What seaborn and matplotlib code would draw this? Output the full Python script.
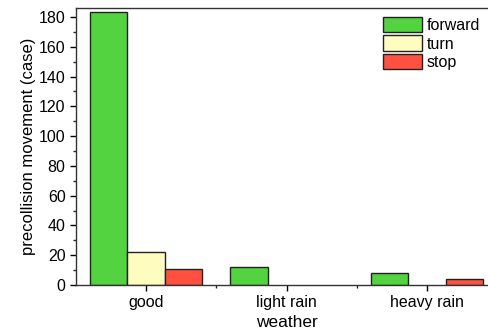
import matplotlib.pyplot as plt
import pandas as pd
import seaborn as sns
from matplotlib.ticker import MultipleLocator, FixedLocator

weather = ['good', 'light rain', 'heavy rain']
movements = ['forward', 'turn', 'stop']
forward = [183, 12, 8]
turn = [22, 0, 0]
stop = [11, 0, 4]
colors = ['#52d33f', '#fffcc0', '#ff5040']

rows = []
for i, w in enumerate(weather):
    rows.append((w, 'forward', forward[i]))
    rows.append((w, 'turn', turn[i]))
    rows.append((w, 'stop', stop[i]))
df = pd.DataFrame(rows, columns=['weather', 'movement', 'cases'])

sns.set_theme(style='ticks')
plt.rcParams['font.family'] = ['Liberation Sans', 'DejaVu Sans']
plt.rcParams['text.color'] = 'black'
plt.rcParams['axes.labelcolor'] = 'black'

fig = plt.figure(figsize=(4.88, 3.35), dpi=100)
ax = fig.add_axes([76 / 488, (335 - 285) / 335, (497 - 76) / 488, (285 - 8) / 335])

sns.barplot(data=df, x='weather', y='cases', hue='movement', hue_order=movements,
            palette=colors, width=0.8, edgecolor='#222222', linewidth=1.0,
            saturation=1, ax=ax)

# empty bars leave no outline in the original
for p in ax.patches:
    if p.get_height() == 0:
        p.set_linewidth(0)

ax.set_xlim(-0.5, 2.5)
ax.set_ylim(0, 186)
ax.yaxis.set_major_locator(MultipleLocator(20))
ax.yaxis.set_minor_locator(MultipleLocator(10))
ax.xaxis.set_minor_locator(FixedLocator([0.5, 1.5]))
ax.tick_params(axis='both', which='major', direction='out', length=4, width=1,
               labelsize=11.5, colors='black')
ax.tick_params(axis='both', which='minor', direction='out', length=2.5, width=1)
for s in ax.spines.values():
    s.set_linewidth(1.0)
    s.set_color('#333333')

ax.set_xlabel('weather', fontsize=12.5, labelpad=3)
ax.set_ylabel('precollision movement (case)', fontsize=12, labelpad=2)

leg = ax.legend(loc='upper right', bbox_to_anchor=(0.96, 0.9675), frameon=False,
                fontsize=11.5, handlelength=2.45, handleheight=1.1, labelspacing=0.15,
                handletextpad=0.3, borderaxespad=0, borderpad=0)
for h in leg.legend_handles:
    h.set_edgecolor('#222222')
    h.set_linewidth(1.0)
for t in leg.get_texts():
    t.set_color('black')

fig.savefig('out.png', dpi=100)
